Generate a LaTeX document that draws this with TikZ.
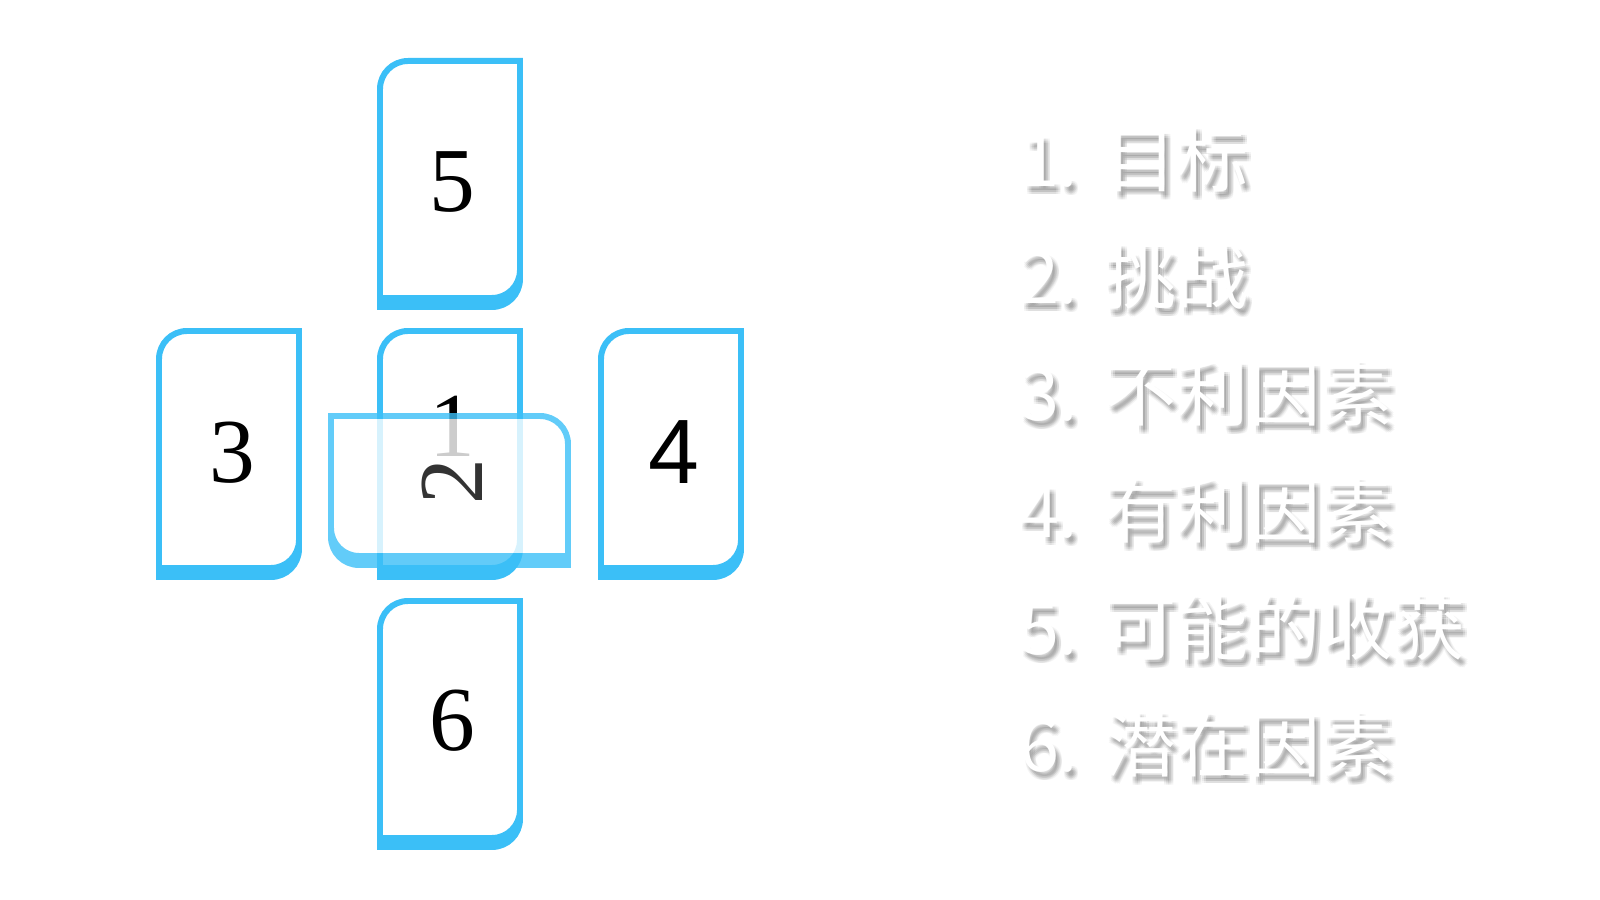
\documentclass[tikz,border=0pt]{standalone}
\usepackage{fontspec}
\usepackage{xcolor}
\usepackage{tikz}
\newfontfamily\cjk{Noto Sans CJK SC}
\newfontfamily\sansnum{Liberation Sans}
\newfontfamily\serifnum{Liberation Serif}
\definecolor{cardblue}{RGB}{59,191,247}

% white legend text over a soft drop shadow, in one box
\newcommand{\softshadow}[1]{%
  \pgfsetfillopacity{0.045}\color{black}%
  \rlap{\hspace*{0.2mm}\raisebox{-0.35mm}{#1}}\rlap{\hspace*{0.4mm}\raisebox{-0.35mm}{#1}}\rlap{\hspace*{0.6mm}\raisebox{-0.35mm}{#1}}%
  \rlap{\hspace*{0.2mm}\raisebox{-0.55mm}{#1}}\rlap{\hspace*{0.4mm}\raisebox{-0.55mm}{#1}}\rlap{\hspace*{0.6mm}\raisebox{-0.55mm}{#1}}%
  \rlap{\hspace*{0.2mm}\raisebox{-0.75mm}{#1}}\rlap{\hspace*{0.4mm}\raisebox{-0.75mm}{#1}}\rlap{\hspace*{0.6mm}\raisebox{-0.75mm}{#1}}%
  \pgfsetfillopacity{1}\color{white}#1}

\tikzset{
  card path/.style={insert path={(70,118.5) -- (70,-90.5) arc[start angle=0,end angle=-90,radius=28]
    -- (-70,-118.5) -- (-70,90.5) arc[start angle=180,end angle=90,radius=28] -- cycle}},
  cardshadow/.style={fill=cardblue, draw=cardblue, line width=1.7pt},
  cardbody/.style={fill=white, draw=cardblue, line width=1.7pt},
  cardnum/.style={font=\serifnum\fontsize{26}{28}\selectfont, text=black, inner sep=0pt},
  itemtext/.style={font=\cjk\fontsize{20.5}{24}\selectfont, anchor=west, inner sep=0pt},
}

\begin{document}
\begin{tikzpicture}[x=0.01cm,y=0.01cm]
            \useasboundingbox (0,0) rectangle (1600,900);
            % Upright cards: shadow first, then body
            \foreach \cx/\cy in {450/720.5, 229/450.5, 450/450.5, 671/450.5, 450/180.5} {
                \path[cardshadow, shift={(\cx,\cy-9)}, card path];
                \path[cardbody, shift={(\cx,\cy)}, card path];
            }
            % Numbers on the upright cards
            \node[cardnum] (n5) at (452,718) {5};
            \node[cardnum] (n3) at (232,447) {3};
            \node[cardnum] (n1) at (452,474) {1};
            \node[cardnum, font=\sansnum\fontsize{26}{28}\selectfont] (n4) at (674,447.5) {4};
            \node[cardnum] (n6) at (452,179) {6};
            % Crossing card, laid over card 1
            \begin{scope}[transparency group, opacity=0.8]
                \path[cardshadow, shift={(449.5,405)}, rotate=90, card path];
                \path[cardbody, shift={(449.5,414)}, rotate=90, card path];
                \node[cardnum, rotate=90] (n2) at (452,418) {2};
            \end{scope}
            % Legend
            \foreach \i/\t in {1/目标, 2/挑战, 3/不利因素, 4/有利因素, 5/可能的收获, 6/潜在因素} {
                \node[itemtext] (item\i) at (1021,{737-117*(\i-1)}) {\softshadow{\makebox[0.83cm][l]{\makebox[0.5em][c]{\i}.}\t}};
            }
        \end{tikzpicture}
\end{document}
